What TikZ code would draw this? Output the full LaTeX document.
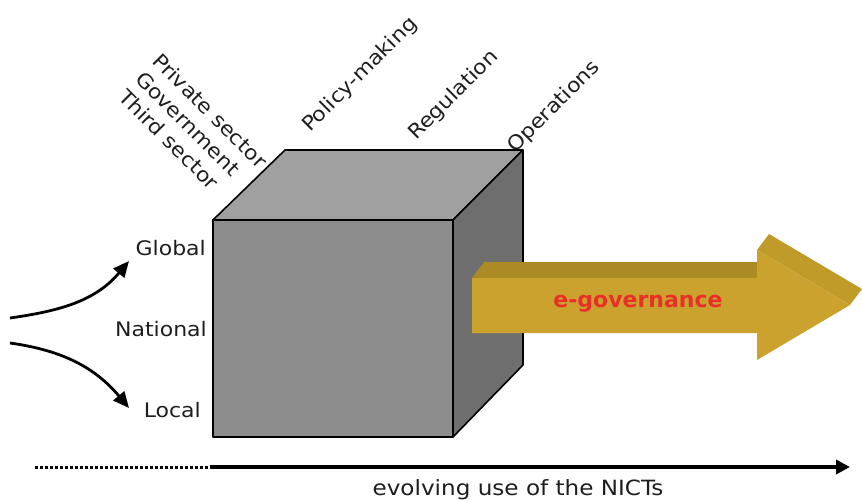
\documentclass[tikz,border=0pt]{standalone}
\usepackage{fontspec}
\setmainfont{DejaVu Sans}
\newfontfamily\widesans[FakeStretch=1.1]{DejaVu Sans}
\usetikzlibrary{arrows.meta}
\definecolor{frontgray}{RGB}{140,140,140}
\definecolor{topgray}{RGB}{160,160,160}
\definecolor{sidegray}{RGB}{110,110,110}
\definecolor{goldfront}{RGB}{203,162,45}
\definecolor{goldtop}{RGB}{172,138,36}
\definecolor{goldhead}{RGB}{192,155,42}
\definecolor{egovred}{RGB}{232,48,40}
\definecolor{txtgray}{RGB}{30,30,30}
\tikzset{
  lbl/.style={font=\widesans\fontsize{20}{24}\selectfont, inner sep=0pt, text=txtgray},
  rlbl/.style={lbl, rotate=45, anchor=base west},
  llbl/.style={lbl, rotate=-45, anchor=base west},
  face/.style={draw=black, line width=1.6pt, line join=round},
  curvearrow/.style={line width=2.8pt, -{Triangle[length=16pt,width=14pt]}},
}
\begin{document}
\begin{tikzpicture}[x=1pt,y=-1pt]
\useasboundingbox (0,0) rectangle (862,500);
% cube
\draw[face, fill=topgray] (213,220) -- (285,150) -- (523,150) -- (453,220) -- cycle;
\draw[face, fill=sidegray] (453,220) -- (523,150) -- (523,365) -- (453,437) -- cycle;
\draw[face, fill=frontgray] (213,220) rectangle (453,437);
% golden arrow
\draw[fill=goldtop, draw=none] (472,278) -- (484,262) -- (769,262) -- (757,278) -- cycle;
\draw[fill=goldhead, draw=none] (757,250) -- (769,234) -- (862,289) -- (850,305) -- cycle;
\draw[fill=goldfront, draw=none] (472,278) -- (757,278) -- (757,250) -- (850,305) -- (757,360) -- (757,333) -- (472,333) -- cycle;
\node[font=\fontsize{22}{26}\selectfont\bfseries, text=egovred] (egov) at (638,304) {e-governance};
% top labels
\node[rlbl] (policy) at (310,133) {Policy-making};
\node[rlbl] (regul) at (416,141) {Regulation};
\node[rlbl] (oper) at (515,154) {Operations};
\node[llbl] (priv) at (151,62) {Private sector};
\node[llbl] (gov) at (134,80) {Government};
\node[llbl] (third) at (117,98) {Third sector};
% left labels
\node[lbl, anchor=east] (global) at (206,248) {Global};
\node[lbl, anchor=east] (national) at (207,329) {National};
\node[lbl, anchor=east] (local) at (201,410) {Local};
\coordinate (s1) at (10,318);
\coordinate (e1) at (129,261);
\coordinate (s2) at (10,343);
\coordinate (e2) at (129,408);
\draw[curvearrow] (s1) to[out=8,in=230] (e1);
\draw[curvearrow] (s2) to[out=-8,in=130] (e2);
% bottom axis
\coordinate (d0) at (35,467);
\coordinate (d1) at (210,467);
\coordinate (d2) at (850,467);
\draw[line width=3pt, dotted] (d0) -- (d1);
\draw[line width=4pt, -{Triangle[length=14pt,width=14pt]}] (d1) -- (d2);
\node[lbl, font=\widesans\fontsize{21}{24}\selectfont] (nicts) at (518,490) {evolving use of the NICTs};
\end{tikzpicture}
\end{document}
